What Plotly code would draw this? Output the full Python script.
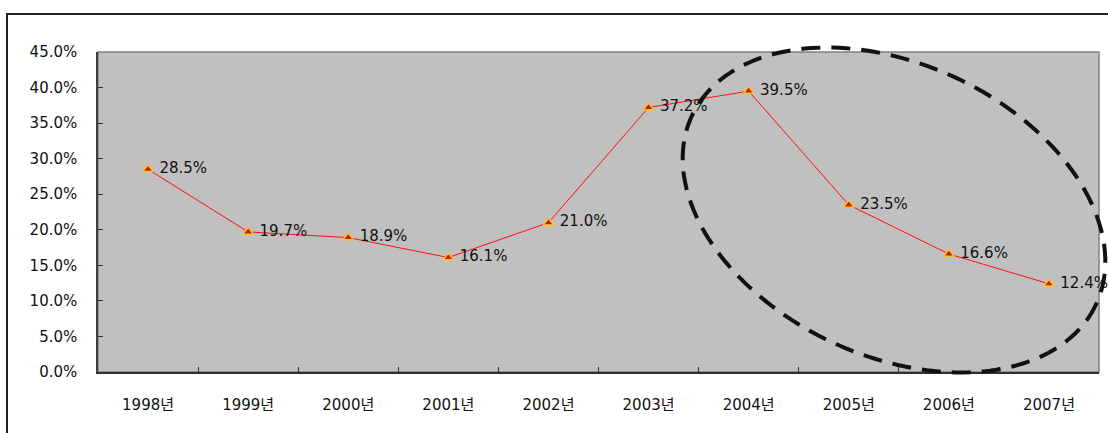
import numpy as np
import plotly.graph_objects as go

# Annual rate by year
years = ["1998년", "1999년", "2000년", "2001년", "2002년",
         "2003년", "2004년", "2005년", "2006년", "2007년"]
rates = [28.5, 19.7, 18.9, 16.1, 21.0, 37.2, 39.5, 23.5, 16.6, 12.4]
y_ticks = [0, 5, 10, 15, 20, 25, 30, 35, 40, 45]
y_tick_text = [f"{v:.1f}%" for v in y_ticks]
point_labels = ["\u00a0" + f"{v:.1f}%" for v in rates]

W, H = 1108, 433
M_L, M_R, M_T, M_B = 98, 9, 52, 61
PW, PH = W - M_L - M_R, H - M_T - M_B

FONT = "'DejaVu Sans', 'Noto Sans CJK KR', sans-serif"

fig = go.Figure()
fig.add_trace(go.Scatter(
    x=years, y=rates,
    mode="lines+markers+text",
    line=dict(color="#FF1010", width=1),
    marker=dict(symbol="triangle-up", size=9, color="#C02000",
                line=dict(color="#FFC020", width=1.5)),
    text=point_labels,
    textposition="middle right",
    textfont=dict(family=FONT, size=15, color="#111111"),
    cliponaxis=False,
    hoverinfo="skip",
))


def px_to_paper(px, py):
    return (px - M_L) / PW, (H - M_B - py) / PH


# Tilted dashed ellipse highlighting the later years (pixel-space geometry)
cx, cy, a, b, theta = 894, 210, 223, 146, np.deg2rad(25)
t = np.linspace(0, 2 * np.pi, 181)
ex = cx + a * np.cos(t) * np.cos(theta) - b * np.sin(t) * np.sin(theta)
ey = cy + a * np.cos(t) * np.sin(theta) + b * np.sin(t) * np.cos(theta)
pts = [px_to_paper(x, y) for x, y in zip(ex, ey)]
path = "M " + " L ".join(f"{p[0]:.5f},{p[1]:.5f}" for p in pts) + " Z"

shapes = [
    # plot-area frame
    dict(type="rect", xref="paper", yref="paper", x0=0, y0=0, x1=1, y1=1,
         line=dict(color="#808080", width=1.5), layer="below"),
    # outer chart border
    dict(type="rect", xref="paper", yref="paper",
         x0=(7 - M_L) / PW, x1=(W + 20 - M_L) / PW,
         y0=(H - M_B - (H + 20)) / PH, y1=(H - M_B - 14) / PH,
         line=dict(color="#202020", width=2), layer="below"),
    dict(type="path", xref="paper", yref="paper", path=path,
         line=dict(color="#111111", width=4, dash="19px,11px")),
]

fig.update_layout(
    width=W, height=H,
    margin=dict(l=M_L, r=M_R, t=M_T, b=M_B),
    paper_bgcolor="white",
    plot_bgcolor="#C0C0C0",
    showlegend=False,
    shapes=shapes,
    font=dict(family=FONT, size=15, color="#111111"),
    xaxis=dict(
        type="category", range=[-0.5, 9.5],
        showgrid=False, zeroline=False,
        showline=True, linecolor="#303030", linewidth=2,
        ticks="inside", tickson="boundaries", ticklen=5,
        tickcolor="#303030", tickwidth=1,
        ticklabelstandoff=18,
        tickfont=dict(family=FONT, size=15, color="#111111"),
    ),
    yaxis=dict(
        range=[0, 45], tickvals=y_ticks, ticktext=y_tick_text,
        showgrid=False, zeroline=False,
        showline=True, linecolor="#404040", linewidth=1.5,
        ticks="inside", ticklen=5, tickcolor="#303030",
        ticklabelstandoff=16,
        tickfont=dict(family=FONT, size=15, color="#111111"),
    ),
)

fig.write_html("out.html")
